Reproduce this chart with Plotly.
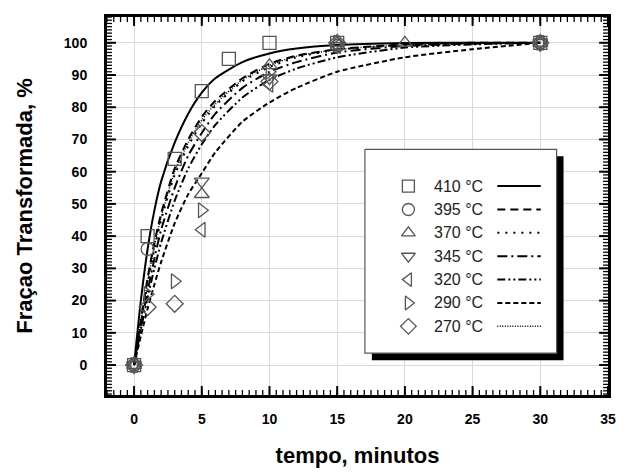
import plotly.graph_objects as go

# ---------------- data ----------------
labels = ["410 °C", "395 °C", "370 °C", "345 °C", "320 °C", "290 °C", "270 °C"]

t_410 = [0, 1, 3, 5, 7, 10, 15, 30]
y_410 = [0, 40, 64, 85, 95, 100, 100, 100]
t_395 = [0, 1, 15, 30]
y_395 = [0, 36, 99, 100]
t_370 = [0, 5, 10, 15, 20, 30]
y_370 = [0, 53, 93, 100, 100, 100]
t_345 = [0, 5, 10, 15, 30]
y_345 = [0, 57, 89, 99, 100]
t_320 = [0, 5, 10, 15, 30]
y_320 = [0, 42, 87, 99, 100]
t_290 = [0, 1, 3, 5, 10, 15, 30]
y_290 = [0, 22, 26, 48, 91, 100, 100]
t_270 = [0, 1, 3, 5, 10, 15, 30]
y_270 = [0, 18, 19, 72, 88, 100, 100]

t_fit = [0, 0.5, 1, 1.5, 2, 3, 4, 5, 6, 8, 10, 12, 15, 20, 25, 30]
fit_410 = [0, 20, 36, 48, 57, 69, 78, 84.5, 89, 94, 96.7, 98.2, 99.3, 99.9, 100, 100]
fit_395 = [0, 14, 27, 38, 47, 61, 70, 77, 82, 89, 93.5, 96, 98, 99.5, 100, 100]
fit_370 = [0, 13, 25, 36, 45, 59, 68, 75, 80.5, 88, 92.5, 95.5, 97.8, 99.3, 99.8, 100]
fit_345 = [0, 12, 23, 33, 42, 55, 65, 72, 78, 86, 91, 94, 97, 99, 99.7, 100]
fit_320 = [0, 11, 21, 30, 38, 51, 61, 68.5, 74.5, 83, 88.5, 92, 95.5, 98.5, 99.5, 100]
fit_290 = [0, 9, 17.5, 25, 32, 44, 53, 59.5, 66, 75.5, 81.5, 86, 91, 95.5, 98, 100]
fit_270 = [0, 13.5, 26, 37, 46, 60, 69, 76, 81, 88.5, 93, 95.8, 97.9, 99.4, 99.9, 100]

x_range = [-2, 35]
y_range = [-9.3, 108]
x_major_step, x_minor_step = 5, 0.5
y_major_step, y_minor_step = 10, 1

# ---------------- styles ----------------
pts = [(t_410, y_410), (t_395, y_395), (t_370, y_370), (t_345, y_345),
       (t_320, y_320), (t_290, y_290), (t_270, y_270)]
fits = [fit_410, fit_395, fit_370, fit_345, fit_320, fit_290, fit_270]
symbols = ["square-open", "circle-open", "triangle-up-open", "triangle-down-open",
           "triangle-left-open", "triangle-right-open", "diamond-open"]
dashes = ["solid", "8px,5px", "2px,6px", "10px,4px,2px,4px",
          "8px,3px,2px,3px,2px,3px", "5px,3px", "1px,1.5px"]
widths = [2, 2, 2, 2, 2, 2, 1.5]
mcol = "#555555"
FONT = "Liberation Sans, Arial, sans-serif"

# plot-area placement (pixels)
L, R, T, B = 107, 614, 17, 397


def px_x(p):
    return x_range[0] + (p - L) / (R - L) * (x_range[1] - x_range[0])


def px_y(p):
    return y_range[1] - (p - T) / (B - T) * (y_range[1] - y_range[0])


def dx(n):
    return n / (R - L) * (x_range[1] - x_range[0])


def dy(n):
    return n / (B - T) * (y_range[1] - y_range[0])


fig = go.Figure()

for f, d, w in zip(fits, dashes, widths):
    fig.add_trace(go.Scatter(x=t_fit, y=f, mode="lines",
                             line=dict(color="black", width=w, dash=d, shape="spline", smoothing=0.6),
                             showlegend=False, hoverinfo="skip"))

for (tx, ty), s in zip(pts, symbols):
    fig.add_trace(go.Scatter(x=tx, y=ty, mode="markers",
                             marker=dict(symbol=s, size=13, color=mcol, line=dict(width=1.3, color=mcol)),
                             showlegend=False))


# ---------------- inside tick marks on all four sides ----------------
def ticks_between(lo, hi, step):
    k0 = int(-(-lo // step))
    vals = []
    k = k0
    while k * step <= hi + 1e-9:
        vals.append(round(k * step, 6))
        k += 1
    return vals


def tick_trace(xs, ys, length, width):
    tx, ty = [], []
    for v in xs:
        tx += [v, v, None, v, v, None]
        ty += [y_range[0], y_range[0] + dy(length), None, y_range[1], y_range[1] - dy(length), None]
    for v in ys:
        tx += [x_range[0], x_range[0] + dx(length), None, x_range[1], x_range[1] - dx(length), None]
        ty += [v, v, None, v, v, None]
    return go.Scatter(x=tx, y=ty, mode="lines", line=dict(color="black", width=width),
                      showlegend=False, hoverinfo="skip")


fig.add_trace(tick_trace(ticks_between(*x_range, x_minor_step), ticks_between(*y_range, y_minor_step), 5, 1.3))
fig.add_trace(tick_trace(ticks_between(*x_range, x_major_step), ticks_between(*y_range, y_major_step), 9, 2))

# ---------------- custom legend (layout positions given in pixels) ----------------
box = (368, 150, 562, 355)
row_y = [187, 210.5, 234, 257.5, 281, 304.5, 328]
mark_x = 412
text_x = 436
line_x0, line_x1 = 502, 546
sh = 7


def rect(x0, y0, x1, y1):
    return ([px_x(x0), px_x(x1), px_x(x1), px_x(x0), px_x(x0)],
            [px_y(y0), px_y(y0), px_y(y1), px_y(y1), px_y(y0)])


rx, ry = rect(box[0] + sh, box[1] + sh, box[2] + sh, box[3] + sh)
fig.add_trace(go.Scatter(x=rx, y=ry, mode="lines", fill="toself", fillcolor="black",
                         line=dict(width=0, color="black"), showlegend=False, hoverinfo="skip"))
rx, ry = rect(*box)
fig.add_trace(go.Scatter(x=rx, y=ry, mode="lines", fill="toself", fillcolor="white",
                         line=dict(width=1.2, color="#555555"), showlegend=False, hoverinfo="skip"))

for i, (lab, s, d, w) in enumerate(zip(labels, symbols, dashes, widths)):
    yy = px_y(row_y[i])
    fig.add_trace(go.Scatter(x=[px_x(mark_x)], y=[yy], mode="markers",
                             marker=dict(symbol=s, size=12, color=mcol, line=dict(width=1.3, color=mcol)),
                             showlegend=False, hoverinfo="skip"))
    fig.add_trace(go.Scatter(x=[px_x(line_x0), px_x(line_x1)], y=[yy, yy], mode="lines",
                             line=dict(color="black", width=w, dash=d),
                             showlegend=False, hoverinfo="skip"))
    fig.add_annotation(x=px_x(text_x), y=yy, text=lab, showarrow=False,
                       xanchor="left", yanchor="middle",
                       font=dict(family=FONT, size=16, color="#222222"))

axis_common = dict(showline=True, linecolor="black", linewidth=3, mirror=True,
                   ticks="", showgrid=True, gridcolor="#d9d9d9", gridwidth=1, zeroline=False,
                   tickmode="linear", tick0=0, layer="above traces",
                   tickfont=dict(family=FONT, size=14, color="black", weight="bold"))

fig.update_layout(
    width=628, height=476,
    margin=dict(l=L, r=628 - R, t=T, b=476 - B),
    paper_bgcolor="white", plot_bgcolor="white",
    showlegend=False,
    xaxis=dict(range=x_range, dtick=x_major_step, ticklabelstandoff=9,
               title=dict(text="tempo, minutos", standoff=22,
                          font=dict(family=FONT, size=22, color="black", weight="bold")),
               **axis_common),
    yaxis=dict(range=y_range, dtick=y_major_step, ticklabelstandoff=14,
               title=dict(text="Fraçao Transformada, %", standoff=26,
                          font=dict(family=FONT, size=22, color="black", weight="bold")),
               **axis_common),
)

fig.write_html("out.html", config={"displayModeBar": False},
               post_script="document.body.style.margin='0px';")
